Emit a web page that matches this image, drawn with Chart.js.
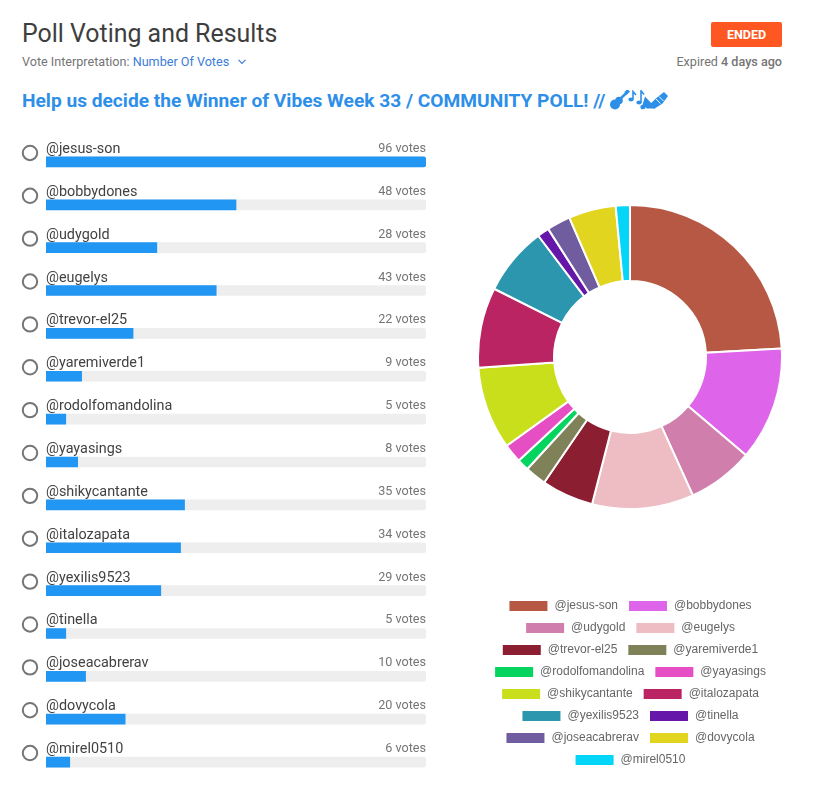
<!DOCTYPE html>
<html><head><meta charset="utf-8">
<script src="https://cdn.jsdelivr.net/npm/chart.js@4"></script>
<style>
html,body{margin:0;padding:0;background:#fff;width:828px;height:811px;overflow:hidden;font-family:Roboto,sans-serif}
.a{position:absolute;white-space:nowrap}
canvas{position:absolute}
</style></head><body>
<div class="a" style="left:22px;top:19px;font-size:24.9px;line-height:30px;color:#3e3e3e">Poll Voting and Results</div>
<div class="a" style="left:22px;top:54px;font-size:12.6px;line-height:16px;color:#757575">Vote Interpretation: <span style="color:#3b7dd8">Number Of Votes</span></div>
<svg class="a" style="left:237px;top:58px" width="10" height="8" viewBox="0 0 10 8"><path d="M1.5 1.8 L5 5.3 L8.5 1.8" fill="none" stroke="#3b7dd8" stroke-width="1.2"/></svg>
<div class="a" style="left:711px;top:22px;width:71px;height:25px;background:#ff5722;border-radius:2px;color:#fff;font-size:12.5px;font-weight:700;line-height:25px;text-align:center">ENDED</div>
<div class="a" style="right:46px;top:54px;font-size:12.6px;line-height:16px;color:#757575">Expired <b style="font-weight:500">4 days ago</b></div>
<div class="a" style="left:22px;top:90px;font-size:19.15px;line-height:22px;font-weight:700;color:#2e8fe8">Help us decide the Winner of Vibes Week 33 / COMMUNITY POLL! //</div>
<svg class="a" style="left:610px;top:90px" width="58" height="20" viewBox="0 0 58 20" fill="#2e8fe8" stroke="none">
<circle cx="5" cy="14.5" r="5"/><circle cx="9" cy="10.5" r="3.8"/><path d="M9 10 L17 2.5" stroke="#2e8fe8" stroke-width="2.4"/><rect x="15" y="0.2" width="4.4" height="3.6" transform="rotate(-40 17 2)"/>
<ellipse cx="21" cy="9.5" rx="2.6" ry="2.1"/><path d="M23 9.5 V1.5 L26 5" fill="none" stroke="#2e8fe8" stroke-width="1.6"/>
<ellipse cx="29" cy="12.5" rx="2.6" ry="2.1"/><path d="M31 12.5 V0.8 L34 4.5" fill="none" stroke="#2e8fe8" stroke-width="1.6"/>
<ellipse cx="33" cy="17" rx="2.6" ry="2.3"/><path d="M32.5 15 L35 6.5 L43 15 L43 18.5 L37 18.5Z"/>
<path d="M39 15 L47 7.5 L54 2 L58 6 L52.5 13.5 L44 19Z"/><path d="M46 9 L50.5 13.5 M49 6.5 L53.5 11" stroke="#fff" stroke-width="0.9"/>
</svg>
<canvas id="bars" width="440" height="670" style="left:0;top:130px;width:440px;height:670px"></canvas>
<canvas id="donut" width="306" height="652" style="left:477px;top:124px;width:306px;height:652px"></canvas>
<script>
const names = ["@jesus-son","@bobbydones","@udygold","@eugelys","@trevor-el25","@yaremiverde1","@rodolfomandolina","@yayasings","@shikycantante","@italozapata","@yexilis9523","@tinella","@joseacabrerav","@dovycola","@mirel0510"];
const votes = [96,48,28,43,22,9,5,8,35,34,29,5,10,20,6];
const colors = ["#b65844","#de64ea","#d07fac","#eebcc3","#8b1f31","#7f8259","#05d45f","#e64ec4","#cadf1b","#ba2463","#2c96ae","#6417a8","#705da0","#e1d51f","#05d6f7"];
const maxVotes = Math.max(...votes);
const track = votes.map(() => maxVotes);
const allRound = {topLeft:3,bottomLeft:3,topRight:3,bottomRight:3};
const leftRound = {topLeft:3,bottomLeft:3,topRight:0,bottomRight:0};

const rowText = {
  id: 'rowText',
  afterDatasetsDraw(chart) {
    const {ctx, scales:{x, y}} = chart;
    ctx.save();
    names.forEach((n, i) => {
      const cy = y.getPixelForValue(i);
      ctx.beginPath();
      ctx.arc(30, cy - 9, 7.2, 0, Math.PI * 2);
      ctx.lineWidth = 2; ctx.strokeStyle = '#757575'; ctx.stroke();
      ctx.textBaseline = 'alphabetic';
      ctx.textAlign = 'left';
      ctx.font = '14.4px Roboto'; ctx.fillStyle = '#424242';
      ctx.fillText(n, x.left, cy - 9);
      ctx.textAlign = 'right';
      ctx.font = '12.6px Roboto'; ctx.fillStyle = '#757575';
      ctx.fillText(votes[i] + ' votes', x.right, cy - 10);
    });
    ctx.restore();
  }
};

new Chart(document.getElementById('bars'), {
  type: 'bar',
  data: { labels: names, datasets: [
    { label: 'votes', data: votes, backgroundColor: '#2196f3', barThickness: 10,
      borderRadius: c => c.raw >= maxVotes ? allRound : leftRound },
    { label: 'track', data: track, backgroundColor: '#eeeeee', barThickness: 10, borderRadius: allRound }
  ]},
  options: {
    indexAxis: 'y', responsive: false, animation: false, devicePixelRatio: 1,
    layout: { padding: { left: 46, right: 14, top: 10.5, bottom: 16.5 } },
    datasets: { bar: { grouped: false } },
    scales: {
      x: { display: false, min: 0, max: maxVotes },
      y: { display: false, offset: true }
    },
    plugins: { legend: { display: false }, tooltip: { enabled: false } }
  },
  plugins: [rowText]
});

new Chart(document.getElementById('donut'), {
  type: 'doughnut',
  data: { labels: names, datasets: [{ data: votes, backgroundColor: colors, borderColor: '#fff', borderWidth: 2 }] },
  options: {
    responsive: false, animation: false, devicePixelRatio: 1, cutout: '50%',
    plugins: {
      tooltip: { enabled: false },
      legend: { position: 'bottom', labels: { boxWidth: 40, boxHeight: 12, color: '#666', padding: 10,
        font: { family: '"Liberation Sans", Arial, sans-serif', size: 12 } } }
    }
  }
});
</script>
</body></html>
